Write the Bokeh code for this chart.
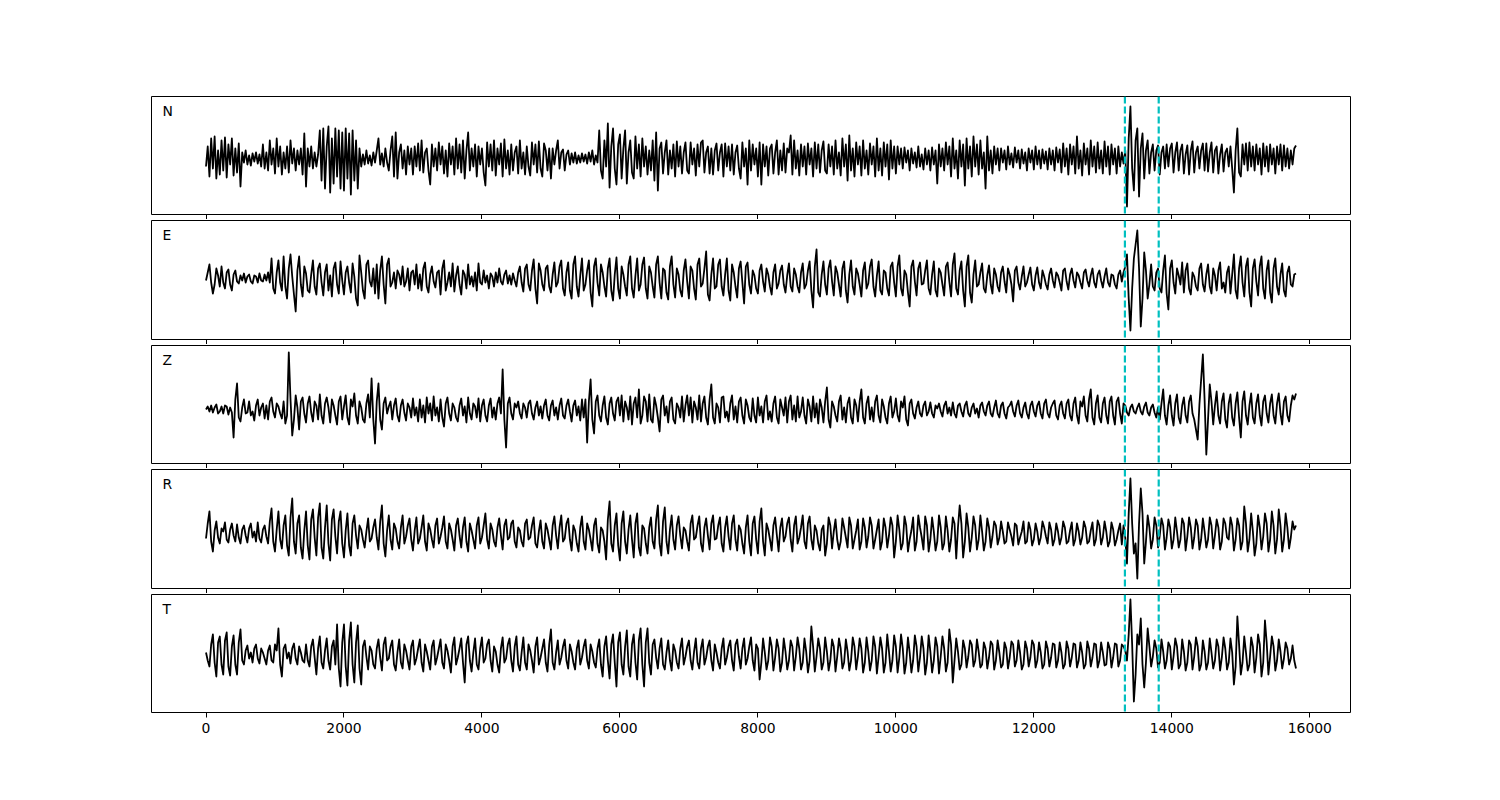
import numpy as np
from bokeh.plotting import figure
from bokeh.layouts import column
from bokeh.models import Range1d, FixedTicker, Span, Label
from bokeh.embed import file_html
from bokeh.resources import INLINE

DT = 25

# amplitude values (arbitrary units, ~pixels); 20 values = 500 samples per row
trace_N = [
    -8, 12, -18, 20, -10, 22, -20, 8, -16, 18, -12, 21, -19, 14, -6, 20, -17, 10, -14, 15,
    -28, 6, -4, 8, -6, 3, -7, 5, -3, 6, -5, 4, -8, 14, -10, 6, -12, 18, -6, 10,
    -15, 20, -8, 12, -16, 6, -10, 12, -14, 18, -5, 10, -12, 8, -6, 10, -16, 25, -28, 10,
    -8, 12, -10, 6, -8, 4, 28, -22, 30, -30, 12, 32, -34, 20, -25, 30, -18, 28, -30, 26,
    -32, 30, -20, 25, -36, 28, -22, 18, -30, 10, -8, 4, -6, 8, -5, 3, -7, 6, -4, 8,
    20, -6, 5, -8, 10, -4, -12, 8, 22, -18, 26, -20, 6, 14, -10, 8, -16, 12, -6, 10,
    -16, 12, -8, 15, -12, 18, -14, 6, 10, -12, -26, 14, -8, 10, -12, 16, -6, 12, -15, 8,
    -18, 15, -6, 12, -16, 20, -10, 14, -14, 18, -20, 8, 26, -12, 10, -8, 14, -18, 12, -6,
    10, -14, -27, 16, -8, 14, -12, 18, -17, 10, -6, 15, -18, 19, -10, 8, -16, 14, -12, 6,
    12, -15, 18, -10, 6, -16, 12, -8, -17, 16, -6, 14, -14, 17, -10, -18, 15, 8, -12, 10,
    -20, 10, -6, 8, 18, -10, 6, 9, -12, 4, 8, -6, 5, -4, 6, -5, 3, -4, 5, -3,
    4, -5, 6, -3, 8, -6, 3, -4, 28, -12, -20, 18, -8, 35, -29, 12, 30, -10, -26, 14,
    24, -20, 10, 28, -25, 6, 18, -14, -20, 22, -10, 14, -18, 20, -8, 12, -16, 8, -12, 18,
    -22, 26, -32, 10, 16, -15, 6, 18, -16, 8, -10, 14, -18, 17, -8, 12, -15, 6, 16, -12,
    -15, 16, -6, 10, -17, 14, -8, 16, 18, -14, 6, 12, -15, 10, -16, 8, 15, -12, 6, 14,
    -18, 15, -8, 12, -12, 14, -16, 6, 13, -10, -20, 16, -8, 10, -26, 18, -12, 14, -6, 10,
    -18, 16, -26, 14, -8, 12, -17, 10, 14, -15, 6, 18, -16, 8, -12, 15, -14, 10, 6, 23,
    -16, 18, -10, 8, -17, 14, -8, 12, -16, 15, -6, 10, -18, 16, -10, 14, -14, 8, 17, -12,
    -15, 14, -8, 12, -16, 18, -10, 6, -17, 20, -8, 14, -22, 23, -12, 10, -18, 16, -6, 12,
    -17, 18, -10, 8, -16, 15, -6, 12, -18, 20, -12, 10, -17, 16, -8, 14, -21, 18, -10, 12,
    -15, 12, -6, 10, -10, 11, -4, 8, -12, 10, -5, 6, -9, 12, -8, 4, -11, 10, -6, 8,
    -12, 11, -6, 8, -25, 14, -8, 10, -12, 16, -6, 12, -18, 20, -10, 8, -20, 18, -8, 14,
    -27, 20, -10, 12, -18, 22, -8, 14, -16, 18, -10, 6, -30, 22, -12, 8, -15, 12, -6, 10,
    -12, 10, -4, 8, -11, 12, -6, 5, -9, 11, -4, 8, -10, 9, -5, 6, -12, 10, -4, 8,
    -11, 12, -6, 8, -10, 9, -5, 7, -11, 10, -6, 8, -12, 11, -4, 9, -14, 15, -8, 10,
    -16, 14, -6, 12, -15, 22, -10, 8, -17, 15, -6, 10, -16, 18, -8, 12, -14, 16, -10, 8,
    -15, 17, -8, 12, -16, 14, -6, 10, -15, 12, -8, 6, -5, 8, -48, 20, 52, -10, -32, 18,
    30, -38, 10, 25, -20, 8, 18, -15, 6, 14, -12, 8, 13, -16, 6, 12, -10, 14, -8, 10,
    15, -14, 6, 16, -12, 8, 14, -15, 4, 13, -16, 8, 17, -14, 6, 12, -10, 8, 15, -12,
    15, -13, 6, 16, -14, 8, 12, -15, 4, 14, -13, 6, 10, -8, 12, -10, -34, 8, 30, -14,
    -18, 14, -6, 15, -12, 16, -8, 12, -12, 14, -6, 10, -16, 15, -8, 12, -13, 14, -6, 10,
    -15, 12, -6, 14, -12, 13, -8, 10, -10, 8, -6, 10, 13,
]
trace_E = [
    -2, 6, 14, -4, -15, -6, 10, 3, -8, 12, -4, -10, 6, 9, -6, -12, 4, 8, -3, -5,
    3, -2, 5, -4, 2, 4, -3, -5, 3, 2, -4, 5, -2, -3, 4, -2, 6, -4, 20, -10,
    -15, 6, 18, -4, -12, 22, -8, -20, 10, 24, 2, -16, -33, 8, 22, -6, -18, 12, 5, -12,
    -14, 4, 18, -8, -16, 10, 15, -4, -17, 6, 14, -12, 3, -18, 10, 16, -6, -15, 17, -2,
    -16, 6, 12, -4, -14, 15, 2, -20, -27, 23, 6, -12, -20, 14, 18, -3, -8, 10, -15, 14,
    -20, 8, 22, -6, -25, 14, 20, -8, -4, 6, -10, 8, 4, -6, 12, -8, -3, 10, -12, 6,
    8, -6, 14, -10, 4, -12, 10, 16, -8, -14, 4, 12, -3, -9, 6, 8, -16, 10, 18, -12,
    -4, 6, -8, 15, -13, 3, 12, -6, -16, 8, 4, -10, 14, -6, 2, -8, 6, -12, 15, -4,
    -6, 8, -4, 3, -10, 5, 2, -8, 6, -4, 10, -3, -6, 4, 8, -5, 3, -6, 5, -2,
    -8, 6, 12, -4, -13, 10, 14, -6, -12, 8, 19, -10, -25, 15, 8, -6, -12, 10, 13, -8,
    -14, 4, 16, -8, -4, 12, 18, -10, -17, 6, 16, -12, -20, 14, 22, -8, -18, 3, 20, -12,
    -6, 8, 18, -14, -28, 12, 20, -4, -17, 14, 6, -8, -18, 10, 20, -12, -22, 4, 21, -10,
    -20, 12, 4, -8, -17, 14, 22, -10, -19, 3, 20, -12, -6, 14, 21, -10, -20, 12, 6, -8,
    -19, 14, 22, -4, -20, 10, 8, -14, -21, 12, 22, -6, -19, 10, 4, -12, -18, 8, 19, -3,
    -20, 12, 8, -10, -21, 14, 20, -8, -5, 10, 27, -16, -22, 4, 20, -10, -8, 14, 19, -8,
    -17, 4, 20, -12, -22, 14, 6, -8, -19, 10, 17, -4, -25, 12, 16, -6, -15, 8, 3, -10,
    -15, 8, 14, -3, -13, 10, 4, -8, -16, 6, 14, -10, -5, 8, 13, -6, -14, 3, 15, -8,
    -13, 10, 4, -8, -14, 6, 15, -10, -6, 8, 17, -12, -29, 12, 29, -14, -18, 4, 17, -6,
    -16, 10, 18, -3, -17, 12, 6, -6, -18, 10, 17, -12, -24, 4, 18, -8, -16, 10, 5, -6,
    -18, 8, 16, -10, -5, 12, 19, -8, -18, 3, 17, -12, -16, 8, 6, -10, -17, 12, 16, -4,
    -18, 12, 23, -10, -17, 8, 4, -14, -28, 12, 18, -3, -17, 10, 16, -6, -5, 8, 18, -10,
    -16, 4, 17, -12, -18, 10, 6, -6, -17, 12, 16, -3, -18, 14, 25, -10, -16, 8, 17, -12,
    -28, 12, 23, -14, -24, 4, 18, -8, -6, 6, 15, -10, -14, 3, 13, -6, -15, 10, 4, -8,
    -13, 6, 12, -3, -14, 10, 4, -6, -23, 8, 12, -4, -11, 2, 12, -8, -4, 4, 11, -6,
    -12, 3, 11, -4, -10, 8, 2, -6, -11, 4, 10, -2, -9, 6, 3, -4, -12, 8, 10, -3,
    -11, 4, 10, -2, -9, 6, 3, -4, -10, 6, 9, -2, -8, 3, 10, -4, -9, 4, 8, -2,
    -9, 2, 10, -4, -8, 4, 3, -6, -10, 4, 8, -3, 6, 12, 24, -20, -52, -10, 20, 34,
    48, 10, -48, -20, 26, 8, -20, -6, 14, -8, -12, 6, 10, -10, -14, 8, 23, -15, -31, 10,
    18, -4, -15, 10, 3, -6, 16, -14, 8, 15, -10, -16, 6, 2, -8, -12, 10, 15, -6, -13,
    4, 14, -8, -15, 10, 3, -12, 8, 16, -10, -4, -14, 6, 12, -15, 4, 24, -12, -20, 10,
    22, -4, -18, 12, 20, -14, -28, 10, 19, -3, -17, 12, 22, -10, -20, 8, 18, -14, -24, 10,
    20, -8, -16, 4, 15, -12, -18, 6, 12, -6, -8, 4, 5,
]
trace_Z = [
    0, 3, -2, 4, -3, 2, 5, -4, -2, 3, -4, 4, 3, -5, 2, -3, -28, 10, 26, -8,
    -12, 2, 10, -4, -3, 8, -6, -2, -11, 4, 10, -6, 2, 6, -9, 4, -10, 8, 12, -2,
    -8, 6, 3, -4, -9, 8, -14, -6, 57, 10, -26, -10, 14, 2, -20, 8, 12, -4, -13, 6,
    13, -3, -12, 8, 4, -10, 15, -6, -14, 6, 12, 2, -13, 10, 4, -6, -15, 8, 13, -10,
    3, 14, -8, -15, 10, 3, 16, -6, -14, 8, 2, -10, -13, 6, 15, -8, 31, -10, -34, 8,
    26, -10, -20, 6, 12, -4, 3, 8, -10, 4, 11, -6, -12, 4, 10, -3, -11, 6, 2, -8,
    11, -6, 2, -12, 10, -8, 4, -13, 12, -4, 6, -11, 13, -6, 2, -12, 10, -8, -17, 6,
    12, -4, -11, 6, 2, -8, -12, 4, 11, -6, 3, -13, 12, -4, -10, 6, 3, -8, 11, -12,
    4, 10, -6, -12, 4, 11, -8, 2, -10, 6, 12, -4, 40, -10, -38, 6, 12, -4, -10, 6,
    2, 8, -4, -9, 6, 2, -8, 6, 9, -4, -10, 2, 8, -6, 3, -9, 4, 10, -6, -11,
    4, 9, -6, 2, -10, 4, 11, -6, -9, 4, 10, -2, -12, 4, 9, -6, 3, -11, 10, -8,
    10, -33, 8, 30, -10, -24, 8, 14, -6, -12, 4, 13, -8, -15, 6, 12, -4, -11, 8, 12,
    -6, 14, -12, 8, 2, -10, 13, -15, 6, 12, -8, 20, -14, -6, 13, 8, -12, 15, -10, -13,
    12, 4, -8, -22, 10, 14, -6, 3, -13, 8, 12, -10, -14, 6, 2, -8, 13, -12, 4, 14,
    -6, 12, -13, 8, 2, -10, 14, -12, 6, 13, -8, -15, 10, 25, -8, -14, 6, 2, -13, 12,
    13, -8, -2, -12, 6, 14, -10, 3, -13, 8, 12, -6, -14, 10, 4, -8, -12, 11, -6, -13,
    12, -6, 3, -13, 8, 14, -10, -2, -12, 6, 13, -8, -14, 10, 2, -6, 12, -13, 8, 14,
    -10, 4, -12, 13, -8, -2, 12, -6, -14, 10, 3, -12, 13, -8, 6, -14, 10, 2, -13, 8,
    22, -10, -18, 8, 3, -6, -12, 8, 14, -10, 2, -13, 6, 12, -8, -14, 10, 4, -12, 8,
    20, -8, -14, 6, 13, -10, 2, -12, 8, 14, -6, -13, 10, 3, -8, -14, 6, 13, -8, -2,
    11, -6, -12, 8, 2, 13, -10, -16, 6, 10, -4, -9, 2, 8, -4, -7, 4, 8, -6, -2,
    7, -4, -8, 4, 1, 6, -2, -7, 4, 8, -4, 2, -6, 7, -4, -8, 4, 6, -2, -7,
    4, 8, -4, -7, 2, 6, -4, 1, -8, 4, 7, -2, -6, 4, 8, -4, -7, 2, 9, -4,
    -8, 4, 7, -4, -9, 2, 4, 8, -2, -7, 4, 9, -4, -8, 2, 7, -4, -9, 4, 8,
    -2, -7, 4, 8, -4, -9, 6, 10, -4, -8, 2, 6, 9, -6, -10, 4, 8, -4, -9, 6,
    10, -6, -11, 6, 12, -6, -14, 8, 3, 13, -6, -12, 10, 20, -8, -15, 6, 14, -8, -13,
    6, 12, -6, -14, 8, 13, -6, -15, 8, 12, -4, -14, 6, 4, -3, -6, 2, 5, -2, -4,
    2, 6, -2, -5, 3, 7, -3, -6, 2, 5, -3, -8, 2, -10, 6, 20, -6, -15, 4, 14,
    -6, -16, 6, 15, -8, -14, 4, 12, -6, -13, 8, 14, -4, -10, -20, -30, 5, 30, 55, 10,
    -45, -10, 25, 8, -15, 4, 18, -6, -14, 8, 16, -10, -18, 6, 15, -8, -16, 6, 17, -8,
    -28, 8, 18, -6, -15, 4, 16, -8, -14, 6, 15, -6, -16, 8, 14, -4, -13, 6, 15, -6,
    -14, 6, 16, -4, -15, 8, 13, -6, -12, 4, 14, 10, 16,
]
trace_R = [
    -5, 10, 22, -8, -18, 3, 12, -4, -10, 5, 2, 11, -6, -9, 4, 10, -2, -8, 9, -4,
    -10, 4, 8, -2, -9, 5, 10, -4, 2, -8, 11, -5, -9, 4, 8, -3, -10, 12, 25, -8,
    -18, 4, 22, -6, -15, 8, 18, -12, -22, 16, 35, -8, -20, 10, 18, -14, -25, 3, 22, -12,
    -26, 14, 24, -4, -22, 16, 30, -14, -25, 6, 28, -10, -27, 14, 24, -3, -20, 12, 22, -10,
    -24, 3, 20, -12, -22, 10, 18, -2, -15, 8, 4, -6, -14, 2, 15, -8, -5, 6, 14, -4,
    -16, 12, 28, -10, -23, 3, 18, -6, -16, 10, 5, -8, -15, 6, 18, -10, -3, 8, 15, -6,
    -17, 3, 16, -10, -5, 6, 18, -8, -17, 10, 4, -6, -14, 8, 15, -10, -3, 6, 17, -8,
    -15, 10, 4, -6, -17, 8, 15, -2, -14, 6, 16, -8, -18, 10, 3, -6, -15, 8, 16, -10,
    -4, 8, 20, -6, -15, 10, 4, -8, -13, 6, 15, -2, -16, 8, 14, -6, -4, 10, 13, -8,
    -14, 6, 3, -8, -13, 10, 14, -6, -4, 8, 16, -10, -14, 2, 13, -8, -15, 10, 4, -6,
    -16, 8, 17, -2, -15, 6, 18, -8, -5, 10, 15, -6, -17, 8, 3, -10, -18, 6, 17, -8,
    -16, 10, 4, -6, -17, 8, 15, -10, -19, 6, 3, -8, -26, 14, 32, -10, -18, 8, 20, -12,
    -27, 10, 22, -8, -20, 4, 18, -6, -24, 10, 20, -14, -22, 8, 5, -10, -20, 6, 16, -8,
    -15, 14, 28, -10, -22, 12, 26, -8, -20, 4, 18, -6, -16, 8, 17, -2, -15, 6, 3, -8,
    -17, 10, 18, -6, -4, 8, 17, -10, -18, 6, 15, -2, -16, 10, 18, -6, -5, 8, 16, -10,
    -18, 6, 17, -3, -16, 10, 18, -6, -17, 8, 4, -10, -20, 6, 18, -8, -22, 10, 17, -6,
    -20, 12, 25, -8, -22, 10, 4, -6, -17, 8, 16, -2, -18, 6, 15, -8, -3, 10, 16, -6,
    -18, 8, 17, -10, -4, 6, 18, -8, -15, 10, 17, -6, -16, 8, 3, -10, -17, 4, 8, -22,
    -10, 16, 8, -15, 2, 14, -6, -16, -8, 15, 6, -4, -14, 16, 8, -15, -6, 3, 14, -16,
    -8, 15, 6, -14, -3, 16, 8, -15, -6, 4, 14, -16, -8, 15, 6, -14, -2, 16, 8, -24,
    -8, 18, 4, -16, -10, 17, 8, -18, -6, 3, 16, -17, -8, 18, 6, -4, -16, 17, 8, -18,
    -6, 16, 2, -17, -8, 18, 6, -16, -10, 17, 3, -18, -6, 16, 10, -25, 6, 28, 10, -24,
    -8, 20, 6, -18, -4, 17, 8, -16, -6, 18, 2, -17, -8, 15, 6, -14, -3, 12, 8, -11,
    -4, 12, 2, -10, -8, 11, 4, -3, -12, 10, 8, -11, -4, 2, 12, -10, -8, 11, 4, -12,
    -6, 10, 2, -11, -4, 12, 6, -3, -10, 11, 4, -12, -6, 10, 2, -11, -4, 12, 6, -10,
    -8, 3, 11, -12, -6, 10, 2, -11, -4, 12, 6, -10, -8, 3, 11, -12, -6, 13, 8, -11,
    -4, 12, 2, -13, -8, 11, 4, -12, -6, 3, 10, -11, 8, -4, -30, 20, 55, 10, -20, -10,
    -45, 10, 45, 20, -30, -8, 18, 6, -15, -6, 16, 8, -14, -2, 15, 8, -16, -4, 14, 6,
    -15, -6, 16, 2, -14, -6, 15, 10, -17, -3, 16, 6, -15, -4, 14, 8, -16, -6, 15, 2,
    -14, -6, 16, 8, -15, -2, 14, 6, -16, -8, 15, 10, -4, -6, 16, 8, -17, -6, 15, 8,
    -16, -8, 27, 10, -18, -6, 20, 2, -22, -10, 18, 6, -16, -3, 20, 10, -18, -6, 22, 8,
    -20, -6, 24, 8, -18, -6, 20, 6, -15, -4, 12, 4, 8,
]
trace_T = [
    2, -6, -12, 10, 20, -8, -22, 12, 18, -10, -20, 14, 22, -12, -21, 8, 19, -10, -20, 12,
    25, -6, -10, 4, 9, -4, 2, -8, 6, 10, -4, -9, 6, 2, -4, -10, 4, 9, -6, -8,
    10, 4, 26, -10, -22, 6, 10, -4, 2, -9, 6, 11, -4, -10, 8, 2, -6, -8, 10, -6,
    -12, 8, 15, -3, -20, 6, 18, -8, -14, 4, 16, -6, -15, 8, 14, -10, 30, -14, -32, 12,
    30, -12, -31, 14, 32, -10, -28, 12, 29, -14, -30, 8, 14, -2, -15, 8, 4, -10, -14, 6,
    15, -3, -16, 10, 17, -6, -4, 8, 14, -10, -16, 2, 15, -8, -14, 10, 4, -6, -15, 8,
    14, -10, -4, 6, 15, -8, -17, 10, 3, -6, -15, 8, 14, -10, -3, 6, 15, -8, -14, 10,
    4, -6, -18, 8, 17, -10, -3, 6, 16, -8, -28, 10, 18, -6, -17, 2, 16, -10, -15, 6,
    17, -8, -4, 10, 15, -6, -17, 8, 3, -10, -18, 6, 17, -8, -4, 10, 16, -6, -17, 8,
    18, -10, -16, 2, 17, -8, -15, 10, 4, -6, -18, 8, 17, -10, -3, 6, 15, -8, -17, 10,
    25, -8, -15, 2, 14, -10, -3, 8, 15, -6, -14, 10, 3, -8, -15, 6, 14, -10, -3, 8,
    15, -6, -14, 10, 3, -8, -13, 6, 15, -10, -22, 8, 18, -6, -24, 10, 20, -8, -32, 12,
    22, -10, -20, 8, 24, -12, -22, 10, 20, -8, -25, 14, 26, -10, -32, 12, 26, -8, -20, 10,
    15, -3, -14, 6, 16, -10, -15, 2, 14, -6, -16, 10, 4, -8, -14, 6, 16, -10, -2, 8,
    14, -6, -15, 3, 16, -8, -14, 6, 15, -10, -3, 8, 14, -6, -16, 10, 2, -8, -14, 6,
    16, -10, -3, 8, 14, -6, -16, 10, 15, -2, -14, 6, 16, -10, -4, 8, 17, -6, -16, 10,
    6, -25, -8, 16, 2, -15, -6, 17, 8, -16, -3, 15, 6, -17, -8, 16, 3, -15, -6, 14,
    8, -16, -2, 17, 6, -15, -8, 16, 3, -18, -6, 28, 8, -17, -2, 16, 6, -15, -8, 17,
    3, -16, -6, 15, 8, -17, -2, 16, 6, -14, -8, 15, 3, -16, -6, 17, 8, -15, -2, 16,
    6, -18, -8, 17, 3, -16, -6, 18, 8, -19, -2, 17, 6, -18, -8, 20, 3, -17, -6, 19,
    8, -18, -3, 20, 6, -19, -8, 17, 2, -18, -6, 19, 8, -17, -3, 18, 6, -20, -8, 19,
    3, -18, -6, 17, 8, -19, -2, 18, 6, -17, -8, 25, 10, -28, -6, 16, 3, -15, -10, 14,
    6, -13, -2, 14, 10, -12, -6, 15, 3, -13, -10, 12, 6, -14, -3, 13, 10, -15, -6, 14,
    2, -13, -10, 12, 6, -14, -3, 13, 10, -12, -6, 14, 2, -15, -10, 13, 6, -12, -3, 14,
    10, -13, -6, 12, 2, -14, -10, 13, 6, -12, -3, 11, 10, -13, -6, 12, 2, -14, -10, 13,
    6, -12, -3, 11, 10, -13, -6, 12, 2, -14, -10, 13, 6, -12, -3, 11, 10, -13, -6, 12,
    2, -11, -10, 12, 6, -13, -3, 11, 10, -12, -6, 10, 8, 4, -6, 20, 55, 10, -47, -20,
    20, 10, 36, -10, -33, -8, 26, 8, -12, -2, 14, 6, -13, -8, 15, 3, -14, -6, 12, 8,
    -15, -2, 16, 8, -14, -10, 15, 3, -16, -8, 14, 10, -15, -2, 17, 8, -16, -10, 14, 3,
    -15, -8, 16, 2, -14, -6, 15, 8, -16, -3, 17, 6, -15, -8, 16, 2, -30, -12, 38, 10,
    -20, -8, 18, 2, -16, -10, 17, 8, -18, -3, 20, 10, -22, -8, 34, 12, -20, -2, 18, 8,
    -16, -6, 15, 3, -14, -4, 12, 6, -10, -4, 9, -6, -14,
]

components = ["N", "E", "Z", "R", "T"]
traces = [trace_N, trace_E, trace_Z, trace_R, trace_T]
# visible amplitude window of each panel (below, above baseline)
y_windows = [(-56, 62), (-61, 58), (-54, 64), (-55, 64), (-58, 60)]
frame_heights = [118, 119, 118, 119, 118]
picks = [13320, 13810]
xticks = list(range(0, 16001, 2000))
x_lo, x_hi = -790, 16590

FONT = "DejaVu Sans"
x_range = Range1d(x_lo, x_hi)
figs = []
for i, (name, vals) in enumerate(zip(components, traces)):
    last = i == len(components) - 1
    lo, hi = y_windows[i]
    p = figure(
        frame_width=1199, frame_height=frame_heights[i],
        x_range=x_range, y_range=Range1d(lo, hi),
        output_backend="svg", toolbar_location=None,
        min_border_left=151, min_border_right=100,
        min_border_top=96 if i == 0 else 1,
        min_border_bottom=60 if last else 5,
        background_fill_color="white", border_fill_color="white",
    )
    p.outline_line_color = "black"
    p.outline_line_width = 1
    p.xgrid.visible = False
    p.ygrid.visible = False
    p.yaxis.visible = False
    ax = p.xaxis[0]
    ax.ticker = FixedTicker(ticks=xticks)
    ax.axis_line_color = None
    ax.major_tick_in = 0
    ax.major_tick_out = 5
    ax.major_tick_line_color = "black"
    ax.minor_tick_line_color = None
    ax.major_label_text_font = FONT
    if last:
        ax.major_label_text_font_size = "13.9px"
        ax.major_label_text_color = "black"
        ax.major_label_standoff = 5
    else:
        # shared x axis: tick labels hidden on the upper panels
        ax.major_label_text_font_size = "0px"
        ax.major_label_standoff = 0

    xs = np.arange(len(vals)) * DT
    p.line(xs, vals, line_color="black", line_width=1.8, line_join="round")

    for t in picks:
        p.add_layout(Span(location=t, dimension="height", line_color="#00bfbf",
                          line_width=2.2, line_dash="7 3"))

    span = hi - lo
    p.add_layout(Label(x=x_lo + 11 / 1199 * (x_hi - x_lo), y=hi - span * 6 / frame_heights[i],
                       text=name, text_font=FONT, text_font_size="13.9px",
                       text_color="black", text_baseline="top", text_align="left"))
    figs.append(p)

layout = column(*figs, spacing=0)
open("out.html", "w").write(file_html(layout, INLINE))
